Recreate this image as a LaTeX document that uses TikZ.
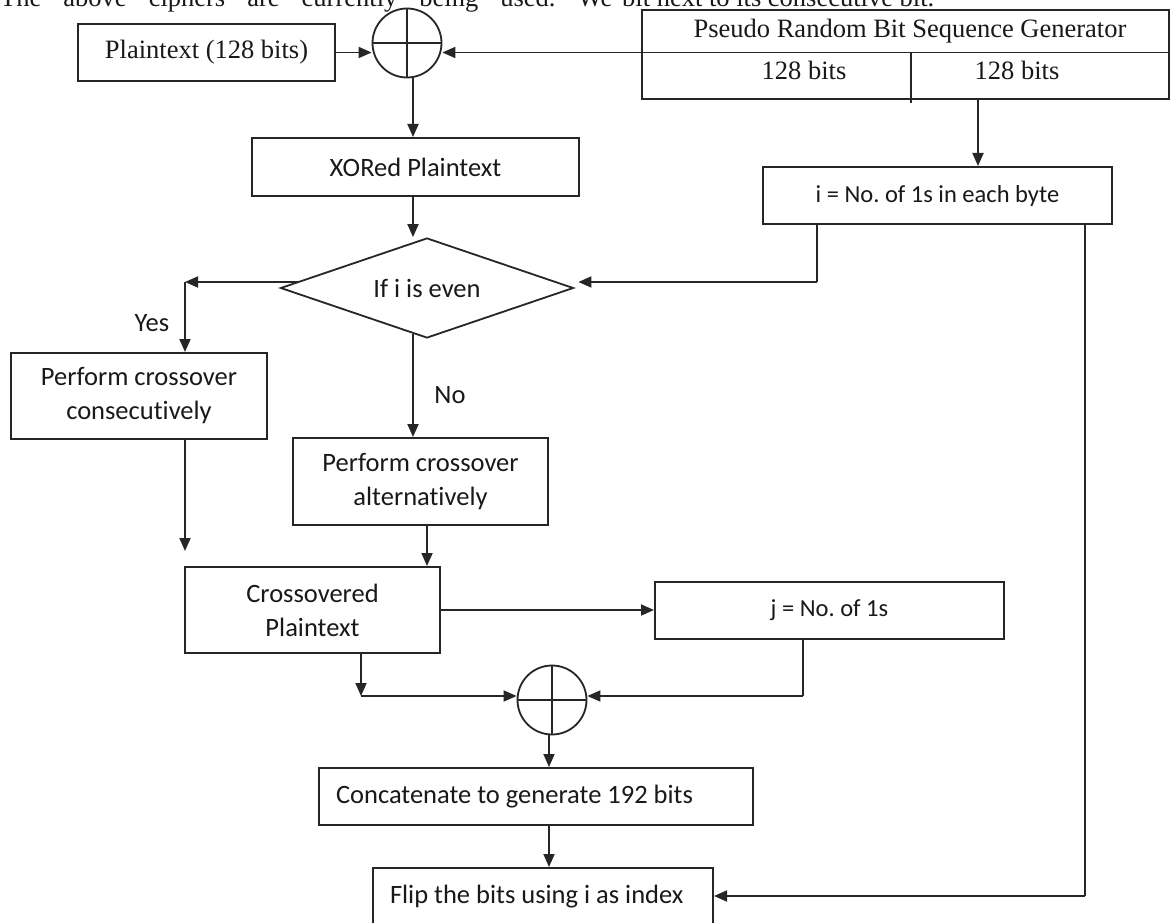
\documentclass[tikz,border=0pt]{standalone}
\usepackage{fontspec}
\newfontfamily\tnr{Liberation Serif}
\newfontfamily\carl[Ligatures=NoCommon]{Carlito}
\usetikzlibrary{arrows.meta,shapes.geometric,calc}
\frenchspacing
\begin{document}
\begin{tikzpicture}[x=1pt,y=-1pt,
  ln/.style={line width=1.8pt, draw=black!85},
  arr/.style={ln, -{Triangle[length=13pt,width=11pt]}},
  box/.style={draw=black!85, line width=2pt, rectangle, inner sep=0pt, text=black!90},
  cf/.style={font=\carl\fontsize{26.5}{34}\selectfont, text=black!90},
  cfs/.style={font=\carl\fontsize{24.5}{30}\selectfont, text=black!90},
  tf/.style={font=\tnr\fontsize{26.5}{32}\selectfont, text=black!90},
  xorc/.style={circle, draw=black!85, line width=1.8pt, minimum size=69pt, inner sep=0pt},
]
\useasboundingbox (0,0) rectangle (1171,923);
\fill[white] (0,0) rectangle (1171,923);

% cut-off text lines at the top
\node[tf, anchor=base west, inner sep=0pt] (t1) at (0,7) {\makebox[612pt][s]{The above ciphers are currently being used. We}};
\node[tf, anchor=base west, inner sep=0pt] (t2) at (622,7) {bit next to its consecutive bit.};

% guide coordinates
\coordinate (c1) at (413,0);
\coordinate (c2) at (427,0);
\coordinate (c5) at (549,0);
\coordinate (c6) at (978,0);

% nodes
\node[box, tf, minimum width=257pt, minimum height=57pt] (plain) at (206.5,52.5) {Plaintext (128 bits)};
\node[xorc] (x1) at (407,43) {};
\draw[ln] (x1.north) -- (x1.south) (x1.west) -- (x1.east);

\node[box, minimum width=527pt, minimum height=89pt] (prbs) at (905.5,54.5) {};
\draw[ln] (prbs.west |- plain.east) -- (prbs.east |- plain.east);
\draw[ln] (911,52.5) -- (911,103);
\node[tf] (prbst) at (910,31) {Pseudo Random Bit Sequence Generator};
\node[tf] (b1) at (804,70) {128 bits};
\node[tf] (b2) at (1017,70) {128 bits};

\node[box, cf, minimum width=327pt, minimum height=58pt] (xored) at (415.5,167) {XORed Plaintext};
\node[diamond, draw=black!85, line width=1.8pt, aspect=2.93, minimum width=293pt, minimum height=100pt, inner sep=0pt, cf] (dia) at (427,288) {If i is even};
\node[box, cf, minimum width=256pt, minimum height=86pt, align=center] (consec) at (139,396) {Perform crossover\\consecutively};
\node[box, cf, minimum width=255pt, minimum height=87pt, align=center] (alt) at (420.5,481.5) {Perform crossover\\alternatively};
\node[box, cf, minimum width=255pt, minimum height=86pt, align=center] (cross) at (312.5,610) {Crossovered\\Plaintext};
\node[box, cfs, minimum width=349pt, minimum height=57pt] (jbox) at (829.5,610.5) {j = No. of 1s};
\node[xorc] (x2) at (552,700) {};
\draw[ln] (x2.north) -- (x2.south) (x2.west) -- (x2.east);
\node[box, cf, minimum width=434pt, minimum height=57pt] (concat) at (536,796.5) {\makebox[400pt][l]{Concatenate to generate 192 bits}};
\node[box, cf, minimum width=340pt, minimum height=58pt] (flip) at (543,897) {\makebox[306pt][l]{Flip the bits using i as index}};
\node[box, cfs, minimum width=349pt, minimum height=57pt] (ibox) at (937.5,195.5) {i = No. of 1s in each byte};

\node[cf] (yes) at (152,323) {Yes};
\node[cf] (no) at (450,395) {No};

% connectors
\draw[arr] (plain.east) -- (plain.east -| x1.west);
\draw[arr] (prbs.west |- plain.east) -- (x1.east |- plain.east);
\draw[arr] (x1.south -| c1) -- (xored.north -| c1);
\draw[arr] (xored.south -| c1) -- (dia.north -| c1);

\coordinate (cy) at (185,282);
\draw[arr] ($(dia.west)+(18,-6)$) -- (cy);
\draw[arr] (cy) -- (cy |- consec.north);
\coordinate (cend) at (185,551);
\draw[arr] (consec.south -| cy) -- (cend);

\draw[arr] ($(dia.south)+(-14,-5)$) -- (alt.north -| c1);
\draw[arr] (alt.south -| c2) -- (cross.north -| c2);
\draw[arr] (cross.east) -- (jbox.west |- cross.east);

\coordinate (c3) at (803,696);
\draw[ln] (jbox.south -| c3) -- (c3);
\draw[arr] (c3) -- (x2.east |- c3);
\coordinate (c4) at (361,696);
\draw[arr] (cross.south -| c4) -- (c4);
\draw[arr] (c4) -- (x2.west |- c4);
\draw[arr] (x2.south -| c5) -- (concat.north -| c5);
\draw[arr] (concat.south -| c5) -- (flip.north -| c5);

\draw[arr] (prbs.south -| c6) -- (ibox.north -| c6);
\coordinate (c7) at (817,282);
\draw[ln] (ibox.south -| c7) -- (c7);
\draw[arr] (c7) -- ($(dia.east)+(4,-6)$);
\coordinate (c8) at (1085,896);
\draw[ln] (ibox.south -| c8) -- (c8);
\draw[arr] (c8) -- (flip.east |- c8);
\end{tikzpicture}
\end{document}
